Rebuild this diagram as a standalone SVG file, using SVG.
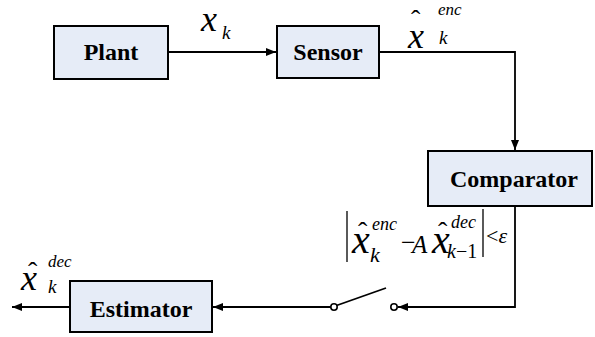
<svg xmlns="http://www.w3.org/2000/svg" width="595" height="337" viewBox="0 0 595 337">
<defs>
<style>
.box{fill:#E6ECF7;stroke:#000;stroke-width:2}
.wire{fill:none;stroke:#000;stroke-width:1.8}
.lbl{font-family:'Liberation Serif','Times New Roman',serif;font-weight:bold;font-size:24px;text-anchor:middle;fill:#000}
</style>
<marker id="ah" markerWidth="10" markerHeight="8" refX="10" refY="4" orient="auto" markerUnits="userSpaceOnUse">
<path d="M0,0 L10,4 L0,8 Z" fill="#000"/>
</marker>
</defs>
<rect width="595" height="337" fill="#fff"/>
<g id="connectors">
<line class="wire" x1="168" y1="52" x2="276" y2="52" marker-end="url(#ah)"/>
<polyline class="wire" points="379,52 515,52 515,150" marker-end="url(#ah)"/>
<polyline class="wire" points="515,206 515,307 398,307" marker-end="url(#ah)"/>
<line class="wire" x1="331" y1="307" x2="213" y2="307" marker-end="url(#ah)"/>
<line class="wire" x1="70" y1="307" x2="12" y2="307" marker-end="url(#ah)"/>
<line class="wire" x1="336.5" y1="305.5" x2="386" y2="288"/>
<circle cx="334" cy="307" r="3.2" fill="#fff" stroke="#000" stroke-width="1.6"/>
<circle cx="394" cy="307" r="3.2" fill="#fff" stroke="#000" stroke-width="1.6"/>
</g>
<g id="plant">
<rect class="box" x="54" y="26" width="114" height="53"/>
<text class="lbl" x="111" y="60">Plant</text>
</g>
<g id="sensor">
<rect class="box" x="277" y="26" width="102" height="52"/>
<text class="lbl" x="328" y="60">Sensor</text>
</g>
<g id="comparator">
<rect class="box" x="428" y="151" width="164" height="55"/>
<text class="lbl" x="514" y="187">Comparator</text>
</g>
<g id="estimator">
<rect class="box" x="70" y="281" width="142" height="51"/>
<text class="lbl" x="141" y="317">Estimator</text>
</g>
<g id="labels" font-family="'Liberation Serif','Times New Roman',serif" font-style="italic">
<text x="201" y="31" font-size="36">x<tspan x="222" y="39" font-size="19">k</tspan></text>

<text><tspan x="411" y="29" font-size="28" font-style="normal">ˆ</tspan><tspan x="408" y="48" font-size="36">x</tspan><tspan x="438" y="15" font-size="17">enc</tspan><tspan x="439" y="44" font-size="19">k</tspan></text>

<text><tspan x="28" y="281" font-size="28" font-style="normal">ˆ</tspan><tspan x="21" y="290" font-size="36">x</tspan><tspan x="48" y="267" font-size="17">dec</tspan><tspan x="48" y="293" font-size="19">k</tspan></text>

<line x1="347" y1="211" x2="347" y2="262" stroke="#000" stroke-width="1.3"/>
<text><tspan x="358" y="241" font-size="28" font-style="normal">ˆ</tspan><tspan x="352" y="253" font-size="40">x</tspan><tspan x="372" y="230" font-size="18">enc</tspan><tspan x="370" y="262" font-size="22">k</tspan><tspan x="401" y="251" font-size="26" font-style="normal">−</tspan><tspan x="412" y="253" font-size="25">A</tspan><tspan x="438" y="241" font-size="28" font-style="normal">ˆ</tspan><tspan x="432" y="253" font-size="40">x</tspan><tspan x="451" y="228" font-size="18">dec</tspan><tspan x="447" y="258" font-size="20">k</tspan><tspan font-size="20" font-style="normal">−1</tspan><tspan x="486" y="243" font-size="22" font-style="normal">&lt;</tspan><tspan font-size="22">ε</tspan></text>
<line x1="483" y1="209" x2="483" y2="257" stroke="#000" stroke-width="1.3"/>
</g>
</svg>
